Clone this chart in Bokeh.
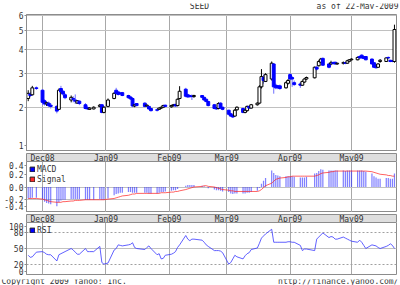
import pandas as pd
from bokeh.plotting import figure
from bokeh.layouts import column
from bokeh.models import (ColumnDataSource, Range1d, FixedTicker, Grid,
                          Legend, LegendItem, NumeralTickFormatter)
from bokeh.embed import file_html
from bokeh.resources import INLINE
from bokeh.core.properties import value

# ---------------- data ----------------
dates = ["2008-11-24", "2008-11-25", "2008-11-26", "2008-11-28",
         "2008-12-01", "2008-12-02", "2008-12-03", "2008-12-04", "2008-12-05",
         "2008-12-08", "2008-12-09", "2008-12-10", "2008-12-11", "2008-12-12",
         "2008-12-15", "2008-12-16", "2008-12-17", "2008-12-18", "2008-12-19",
         "2008-12-22", "2008-12-23", "2008-12-24", "2008-12-26",
         "2008-12-29", "2008-12-30", "2008-12-31",
         "2009-01-02", "2009-01-05", "2009-01-06", "2009-01-07", "2009-01-08", "2009-01-09",
         "2009-01-12", "2009-01-13", "2009-01-14", "2009-01-15", "2009-01-16",
         "2009-01-20", "2009-01-21", "2009-01-22", "2009-01-23",
         "2009-01-26", "2009-01-27", "2009-01-28", "2009-01-29", "2009-01-30",
         "2009-02-02", "2009-02-03", "2009-02-04", "2009-02-05", "2009-02-06",
         "2009-02-09", "2009-02-10", "2009-02-11", "2009-02-12", "2009-02-13",
         "2009-02-17", "2009-02-18", "2009-02-19", "2009-02-20",
         "2009-02-23", "2009-02-24", "2009-02-25", "2009-02-26", "2009-02-27",
         "2009-03-02", "2009-03-03", "2009-03-04", "2009-03-05", "2009-03-06",
         "2009-03-09", "2009-03-10", "2009-03-11", "2009-03-12", "2009-03-13",
         "2009-03-16", "2009-03-17", "2009-03-18", "2009-03-19", "2009-03-20",
         "2009-03-23", "2009-03-24", "2009-03-25", "2009-03-26", "2009-03-27",
         "2009-03-30", "2009-03-31", "2009-04-01", "2009-04-02", "2009-04-03",
         "2009-04-06", "2009-04-07", "2009-04-08", "2009-04-09",
         "2009-04-13", "2009-04-14", "2009-04-15", "2009-04-16", "2009-04-17",
         "2009-04-20", "2009-04-21", "2009-04-22", "2009-04-23", "2009-04-24",
         "2009-04-27", "2009-04-28", "2009-04-29", "2009-04-30", "2009-05-01",
         "2009-05-04", "2009-05-05", "2009-05-06", "2009-05-07", "2009-05-08",
         "2009-05-11", "2009-05-12", "2009-05-13", "2009-05-14", "2009-05-15",
         "2009-05-18", "2009-05-19", "2009-05-20", "2009-05-21", "2009-05-22"]

opens = [2.22, 2.34, 2.32, 2.52,
         2.45, 2.16, 2.08, 2.10, 2.05,
         2.02, 1.95, 2.50, 2.42, 2.32,
         2.18, 2.22, 2.18, 2.10, 2.15,
         2.06, 1.99, 1.95, 1.96,
         2.02, 2.06, 1.88,
         2.02, 2.22, 2.45, 2.40, 2.37, 2.38,
         2.30, 2.26, 2.22, 2.03, 2.09,
         2.10, 2.03, 2.02, 1.97,
         1.94, 1.95, 1.98, 2.00, 2.05,
         2.01, 2.04, 2.07, 2.04, 2.22,
         2.48, 2.32, 2.30, 2.28, 2.27,
         2.30, 2.25, 2.20, 2.14,
         2.06, 1.99, 1.97, 2.10, 2.00,
         1.93, 1.85, 1.81, 1.80, 1.94,
         1.97, 1.88, 1.92, 2.02, 1.98,
         2.06, 2.10, 2.55, 2.85, 2.72,
         2.80, 3.35, 2.60, 2.58, 2.58,
         2.52, 2.66, 2.95, 2.85, 2.68,
         2.64, 2.60, 2.70, 2.80,
         2.84, 3.22, 3.28, 3.42, 3.58,
         3.35, 3.35, 3.40, 3.42, 3.35,
         3.38, 3.40, 3.38, 3.46, 3.52,
         3.52, 3.66, 3.72, 3.65, 3.66,
         3.55, 3.40, 3.28, 3.22, 3.45,
         3.45, 3.62, 3.50, 3.48, 3.45]

highs = [2.45, 2.40, 2.58, 2.56,
         2.48, 2.20, 2.14, 2.14, 2.10,
         2.05, 2.50, 2.58, 2.45, 2.36,
         2.30, 2.28, 2.33, 2.18, 2.17,
         2.10, 2.02, 2.00, 2.02,
         2.08, 2.08, 2.03,
         2.22, 2.40, 2.52, 2.42, 2.40, 2.40,
         2.32, 2.28, 2.25, 2.08, 2.10,
         2.12, 2.07, 2.03, 1.98,
         1.97, 1.99, 2.01, 2.06, 2.06,
         2.06, 2.08, 2.08, 2.22, 2.57,
         2.52, 2.35, 2.32, 2.33, 2.32,
         2.31, 2.27, 2.22, 2.16,
         2.08, 2.00, 2.12, 2.12, 2.01,
         1.94, 1.87, 1.84, 1.96, 2.02,
         1.99, 1.95, 2.04, 2.04, 2.08,
         2.12, 2.60, 3.15, 2.95, 3.00,
         3.45, 3.38, 2.65, 2.60, 2.62,
         2.72, 2.80, 3.00, 2.90, 2.75,
         2.70, 2.75, 2.82, 2.88,
         3.25, 3.28, 3.50, 3.60, 3.62,
         3.40, 3.48, 3.45, 3.44, 3.40,
         3.45, 3.43, 3.52, 3.55, 3.58,
         3.66, 3.70, 3.76, 3.68, 3.68,
         3.58, 3.42, 3.30, 3.38, 3.55,
         3.62, 3.66, 3.52, 3.50, 5.35]

lows = [2.15, 2.26, 2.30, 2.46,
        2.05, 2.04, 2.03, 2.00, 1.97,
        1.86, 1.94, 2.38, 2.30, 2.20,
        2.12, 2.12, 2.08, 2.08, 2.05,
        1.95, 1.94, 1.94, 1.95,
        2.00, 1.86, 1.86,
        2.00, 2.20, 2.33, 2.30, 2.32, 2.28,
        2.22, 2.18, 2.00, 2.00, 2.02,
        2.00, 2.01, 1.94, 1.90,
        1.90, 1.94, 1.96, 1.98, 2.00,
        1.99, 2.02, 2.01, 2.02, 2.20,
        2.25, 2.24, 2.24, 2.18, 2.24,
        2.22, 2.16, 2.12, 2.02,
        1.95, 1.94, 1.95, 1.96, 1.93,
        1.82, 1.78, 1.76, 1.79, 1.92,
        1.86, 1.86, 1.90, 1.96, 1.97,
        2.04, 2.08, 2.50, 2.65, 2.70,
        2.75, 2.35, 2.48, 2.48, 2.46,
        2.50, 2.62, 2.75, 2.55, 2.58,
        2.52, 2.58, 2.68, 2.78,
        2.82, 3.10, 3.25, 3.40, 3.28,
        3.18, 3.30, 3.32, 3.32, 3.32,
        3.33, 3.34, 3.36, 3.44, 3.50,
        3.50, 3.58, 3.58, 3.55, 3.50,
        3.33, 3.20, 3.18, 3.20, 3.40,
        3.43, 3.56, 3.42, 3.42, 3.40]

closes = [2.36, 2.30, 2.52, 2.50,
          2.12, 2.08, 2.11, 2.04, 2.02,
          1.91, 2.45, 2.40, 2.34, 2.24,
          2.25, 2.20, 2.15, 2.16, 2.09,
          1.97, 1.96, 1.98, 2.00,
          2.05, 1.88, 2.00,
          2.18, 2.36, 2.36, 2.33, 2.35, 2.30,
          2.24, 2.21, 2.03, 2.06, 2.04,
          2.02, 2.05, 1.96, 1.92,
          1.93, 1.98, 2.00, 2.04, 2.02,
          2.04, 2.06, 2.03, 2.20, 2.42,
          2.28, 2.26, 2.27, 2.27, 2.30,
          2.25, 2.18, 2.14, 2.04,
          1.97, 1.96, 2.09, 1.98, 1.95,
          1.84, 1.80, 1.78, 1.93, 2.00,
          1.88, 1.93, 2.02, 1.98, 2.06,
          2.10, 2.55, 2.88, 2.75, 2.95,
          3.38, 2.55, 2.52, 2.52, 2.50,
          2.68, 2.75, 2.80, 2.80, 2.62,
          2.60, 2.72, 2.80, 2.85,
          3.22, 3.15, 3.45, 3.55, 3.30,
          3.22, 3.40, 3.38, 3.35, 3.38,
          3.40, 3.38, 3.48, 3.52, 3.55,
          3.62, 3.60, 3.60, 3.58, 3.52,
          3.35, 3.22, 3.20, 3.35, 3.50,
          3.60, 3.60, 3.45, 3.45, 5.05]

macd = [-0.18, -0.18, -0.17, -0.17,
        -0.20, -0.23, -0.25, -0.26, -0.27,
        -0.30, -0.24, -0.21, -0.20, -0.20,
        -0.19, -0.19, -0.19, -0.19, -0.19,
        -0.20, -0.20, -0.20, -0.20,
        -0.19, -0.20, -0.20,
        -0.18, -0.13, -0.11, -0.10, -0.09, -0.09,
        -0.08, -0.08, -0.09, -0.09, -0.09,
        -0.09, -0.09, -0.10, -0.10,
        -0.10, -0.09, -0.08, -0.08, -0.07,
        -0.06, -0.05, -0.05, -0.03, 0.00,
        0.02, 0.03, 0.03, 0.03, 0.03,
        0.02, 0.01, 0.00, -0.02,
        -0.04, -0.05, -0.05, -0.06, -0.07,
        -0.08, -0.10, -0.11, -0.10, -0.10,
        -0.10, -0.10, -0.09, -0.09, -0.08,
        -0.06, -0.01, 0.05, 0.10, 0.14,
        0.26, 0.22, 0.19, 0.18, 0.17,
        0.17, 0.17, 0.17, 0.17, 0.16,
        0.15, 0.15, 0.15, 0.16,
        0.21, 0.22, 0.25, 0.28, 0.27,
        0.26, 0.26, 0.26, 0.26, 0.26,
        0.26, 0.25, 0.26, 0.26, 0.26,
        0.26, 0.26, 0.26, 0.25, 0.24,
        0.21, 0.17, 0.15, 0.13, 0.13,
        0.14, 0.14, 0.13, 0.13, 0.21]

signal = [-0.18, -0.18, -0.18, -0.18,
          -0.19, -0.20, -0.21, -0.22, -0.23,
          -0.24, -0.24, -0.24, -0.23, -0.23,
          -0.22, -0.22, -0.21, -0.21, -0.21,
          -0.20, -0.20, -0.20, -0.20,
          -0.20, -0.20, -0.20,
          -0.19, -0.18, -0.17, -0.16, -0.15, -0.14,
          -0.13, -0.12, -0.11, -0.11, -0.10,
          -0.10, -0.10, -0.10, -0.10,
          -0.10, -0.10, -0.09, -0.09, -0.09,
          -0.08, -0.08, -0.07, -0.07, -0.06,
          -0.04, -0.03, -0.02, -0.01, 0.00,
          0.01, 0.02, 0.02, 0.01,
          0.00, -0.01, -0.02, -0.03, -0.04,
          -0.05, -0.06, -0.06, -0.07, -0.07,
          -0.07, -0.07, -0.07, -0.07, -0.07,
          -0.07, -0.06, -0.04, -0.01, 0.02,
          0.06, 0.09, 0.12, 0.13, 0.14,
          0.15, 0.16, 0.16, 0.17, 0.17,
          0.17, 0.17, 0.17, 0.17,
          0.17, 0.18, 0.19, 0.21, 0.22,
          0.23, 0.24, 0.24, 0.25, 0.25,
          0.25, 0.25, 0.25, 0.25, 0.25,
          0.25, 0.25, 0.25, 0.25, 0.25,
          0.24, 0.23, 0.22, 0.21, 0.20,
          0.19, 0.18, 0.18, 0.17, 0.17]

rsi = [37, 33, 34, 43,
       44, 42, 39, 38, 38,
       26, 38, 40, 42, 44,
       50, 47, 43, 39, 39,
       50, 44, 44, 44,
       54, 23, 20,
       22, 47, 50, 57, 56, 55,
       57, 58, 61, 52, 50,
       48, 52, 55, 50,
       38, 40, 30, 31, 37,
       39, 41, 44, 52, 57,
       75, 68, 65, 68, 68,
       66, 62, 57, 54,
       46, 46, 46, 45, 42,
       20, 23, 30, 37, 34,
       30, 36, 40, 42, 48,
       51, 60, 70, 74, 78,
       87, 62, 62, 62, 62,
       62, 63, 63, 62, 62,
       56, 46, 49, 49,
       46, 68, 72, 76, 80,
       71, 73, 72, 68, 68,
       72, 70, 68, 66, 64,
       62, 66, 62, 56, 50,
       57, 56, 55, 52, 50,
       54, 56, 59, 56, 50]

month_starts = ["2008-12-01", "2009-01-01", "2009-02-01", "2009-03-01", "2009-04-01", "2009-05-01"]
month_labels = ["Dec08", "Jan09", "Feb09", "Mar09", "Apr09", "May09"]
# tick positions; the outermost labels sit just inside the panel edge, as in the original
price_ticks = [1.27, 2, 3, 4, 5, 6]
price_labels = {1.27: "1"}
macd_ticks = [-0.31, -0.2, 0.0, 0.2, 0.342]
macd_labels = {-0.31: "-0.4", 0.342: "0.4"}
rsi_ticks = [6.4, 20, 50, 80, 92.8]
rsi_labels = {6.4: "0", 92.8: "100"}
title_text = "SEED"
asof_text = "as of 22-May-2009"
copyright_text = "Copyright 2009 Yahoo! Inc."
url_text = "http://finance.yahoo.com/"

assert len(dates) == len(opens) == len(highs) == len(lows) == len(closes) == len(macd) == len(signal) == len(rsi)

# ---------------- styling ----------------
FONT = "DejaVu Sans Mono"
FS = "8px"
TXT = "#333333"
FRAME = "#8c8c8c"
HGRID = "#c0c0c0"
VGRID = "#a8a8a8"
BAND = "#dedede"
DAY = 86400000.0
NAN = float("nan")

month_ms = [pd.Timestamp(m).value / 1e6 for m in month_starts]
xr = Range1d(start=pd.Timestamp("2008-11-23 04:00"), end=pd.Timestamp("2009-05-23 00:00"))

up = [c > o for o, c in zip(opens, closes)]
src = ColumnDataSource(dict(
    date=pd.to_datetime(dates), open=opens, high=highs, low=lows, close=closes,
    top=[max(o, c) for o, c in zip(opens, closes)],
    bottom=[min(o, c) for o, c in zip(opens, closes)],
    fill=["white" if u else "#0000ff" for u in up],
    line=["black" if u else "#0000ff" for u in up],
    wick=["black" if u else "#6f6fff" for u in up],
    macd=macd, signal=signal, rsi=rsi))


def overrides(d):
    out = {}
    for k, v in d.items():
        out[k] = v
        out[str(k)] = v
    return out


def base_fig(height, y_range, y_type="linear", top=0, bottom=0, yaxis=True):
    f = figure(width=400, height=height, x_range=xr, y_range=y_range,
               x_axis_type="datetime", y_axis_type=y_type,
               x_axis_location=None, y_axis_location="left" if yaxis else None,
               output_backend="svg", toolbar_location=None, title=None,
               min_border_left=26, min_border_right=4,
               min_border_top=top, min_border_bottom=bottom)
    f.outline_line_color = FRAME
    f.background_fill_color = "white"
    f.border_fill_color = "white"
    f.xgrid.ticker = FixedTicker(ticks=month_ms)
    f.xgrid.grid_line_color = VGRID
    if yaxis:
        ax = f.yaxis[0]
        ax.axis_line_color = FRAME
        ax.major_tick_line_color = FRAME
        ax.major_tick_out = 2
        ax.major_tick_in = 0
        ax.minor_tick_line_color = None
        ax.minor_tick_out = 0
        ax.minor_tick_in = 0
        ax.major_label_text_font = FONT
        ax.major_label_text_font_size = FS
        ax.major_label_text_color = TXT
        ax.major_label_standoff = 1
    return f


def band():
    b = base_fig(10, Range1d(0, 1), yaxis=False)
    b.background_fill_color = BAND
    b.ygrid.visible = False
    b.xgrid.visible = False
    b.text(x=pd.to_datetime(month_starts), y=[0.55] * len(month_starts), text=month_labels,
           text_align="center", text_baseline="middle", text_font=value(FONT),
           text_font_size=FS, text_color=TXT)
    return b


def legend(f, items):
    lg = Legend(items=items, location="top_left", border_line_color=None,
                background_fill_alpha=0, label_text_font=FONT, label_text_font_size=FS,
                label_text_color=TXT, glyph_width=6, glyph_height=6, label_height=10,
                label_standoff=2, spacing=0, padding=0, margin=3)
    f.add_layout(lg)


def text_strip(height):
    s = figure(width=400, height=height, x_range=Range1d(0, 400), y_range=Range1d(0, height),
               x_axis_location=None, y_axis_location=None, output_backend="svg",
               toolbar_location=None, title=None, min_border=0)
    s.outline_line_color = None
    s.xgrid.visible = False
    s.ygrid.visible = False
    if "frame_align" in s.properties():
        s.frame_align = False
    return s


# ---------------- header ----------------
hdr = text_strip(9)
hdr.text(x=[199], y=[6.5], text=[title_text], text_align="center", text_baseline="middle",
         text_font=value(FONT), text_font_size=FS, text_color=TXT)
hdr.text(x=[398], y=[6.5], text=[asof_text], text_align="right", text_baseline="middle",
         text_font=value(FONT), text_font_size=FS, text_color=TXT)

# ---------------- price panel ----------------
p1 = base_fig(142, Range1d(1.18, 6.04), y_type="log", top=5)
p1.yaxis.ticker = FixedTicker(ticks=price_ticks)
p1.yaxis.formatter = NumeralTickFormatter(format="0")
p1.yaxis.major_label_overrides = overrides(price_labels)
p1.ygrid.ticker = FixedTicker(ticks=price_ticks[1:])
p1.ygrid.grid_line_color = HGRID
p1.segment(x0="date", y0="low", x1="date", y1="high", line_color="wick", line_width=1, source=src)
p1.vbar(x="date", width=1.4 * DAY, top="top", bottom="bottom", fill_color="fill",
        line_color="line", line_width=1, source=src)

b1 = band()

# ---------------- MACD panel ----------------
p2 = base_fig(51, Range1d(-0.4, 0.4))
p2.yaxis.ticker = FixedTicker(ticks=macd_ticks)
p2.yaxis.formatter = NumeralTickFormatter(format="0.0")
p2.yaxis.major_label_overrides = overrides(macd_labels)
p2.ygrid.ticker = FixedTicker(ticks=[-0.2, 0.0])
p2.ygrid.grid_line_color = HGRID
p2.vbar(x="date", width=0.6 * DAY, top="macd", bottom=0, fill_color="#2b2bff",
        fill_alpha=0.6, line_color=None, source=src)
p2.line(x="date", y="signal", line_color="#ff2020", line_alpha=0.7, line_width=1, source=src)
sw1 = p2.quad(left=[NAN], right=[NAN], top=[NAN], bottom=[NAN], fill_color="#0000ff", line_color="#202020")
sw2 = p2.quad(left=[NAN], right=[NAN], top=[NAN], bottom=[NAN], fill_color="#ff2a2a", line_color="#202020")
legend(p2, [LegendItem(label="MACD", renderers=[sw1]), LegendItem(label="Signal", renderers=[sw2])])

b2 = band()

# ---------------- RSI panel ----------------
p3 = base_fig(54, Range1d(0, 100), bottom=2)
p3.yaxis.ticker = FixedTicker(ticks=rsi_ticks)
p3.yaxis.formatter = NumeralTickFormatter(format="0")
p3.yaxis.major_label_overrides = overrides(rsi_labels)
p3.ygrid.ticker = FixedTicker(ticks=[50])
p3.ygrid.grid_line_color = HGRID
p3.add_layout(Grid(dimension=1, ticker=FixedTicker(ticks=[20, 80]),
                   grid_line_color="#a0a0a0", grid_line_dash="2 2"))
p3.line(x="date", y="rsi", line_color="#3a3aff", line_alpha=0.8, line_width=1, source=src)
sw3 = p3.quad(left=[NAN], right=[NAN], top=[NAN], bottom=[NAN], fill_color="#0000ff", line_color="#202020")
legend(p3, [LegendItem(label="RSI", renderers=[sw3])])

# ---------------- footer ----------------
ftr = text_strip(9)
ftr.text(x=[1], y=[7.5], text=[copyright_text], text_align="left", text_baseline="middle",
         text_font=value(FONT), text_font_size=FS, text_color=TXT)
ftr.text(x=[398], y=[7.5], text=[url_text], text_align="right", text_baseline="middle",
         text_font=value(FONT), text_font_size=FS, text_color=TXT)

layout = column(hdr, p1, b1, p2, b2, p3, ftr, spacing=0)
open("out.html", "w").write(file_html(layout, INLINE))
